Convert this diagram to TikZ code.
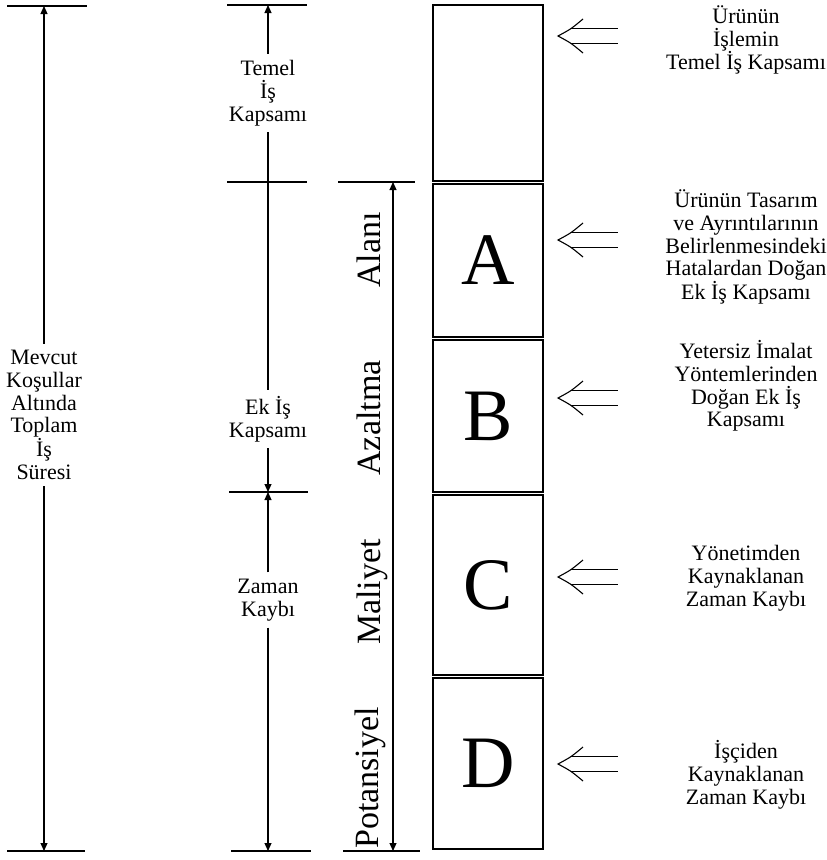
\documentclass[tikz,border=0pt]{standalone}
\usepackage{fontspec}
\setmainfont{Liberation Serif}
\usetikzlibrary{arrows.meta}

\tikzset{
  dblarrow/.pic={
    \draw (25,-17) .. controls (13,-7) .. (0,0) .. controls (13,7) .. (25,17);
    \draw (13,-7.5) -- (60,-7.5) (13,7.5) -- (60,7.5);
  }
}

\begin{document}
\begin{tikzpicture}[x=1pt,y=-1pt,line width=1.1pt,
   every node/.style={font=\fontsize{22}{22.8}\selectfont},
   lbl/.style={align=center,inner sep=6pt},
   arr/.style={-{Triangle[length=8pt,width=7pt]}},
   box/.style={draw,line width=1.4pt,minimum width=110pt,inner sep=0pt,
     font=\fontsize{74}{74}\selectfont},
   side/.style={rotate=90,anchor=base,inner sep=0pt,font=\fontsize{34}{34}\selectfont}]
   \useasboundingbox (0,0) rectangle (827,860);

   % left column
   \draw (7,6) -- (87,6);
   \draw (7,851) -- (85,851);
   \coordinate (lt) at (44,6);
   \coordinate (lb) at (44,851);
   \node [lbl] (mevcut) at (44,415) {Mevcut\\Koşullar\\Altında\\Toplam\\İş\\Süresi};
   \draw [arr] (mevcut) -- (lt);
   \draw [arr] (mevcut) -- (lb);

   % middle column
   \draw (227,5) -- (307,5);
   \draw (227,182) -- (307,182);
   \draw (229,492) -- (308,492);
   \draw (231,851) -- (311,851);
   \coordinate (mt) at (268,5);
   \coordinate (mm) at (268,492);
   \coordinate (mb) at (268,851);
   \node [lbl] (temel) at (268,93) {Temel\\İş\\Kapsamı};
   \node [lbl] (ek) at (268,419) {Ek İş\\Kapsamı};
   \node [lbl] (zaman) at (268,600) {Zaman\\Kaybı};
   \draw [arr] (temel) -- (mt);
   \draw (temel) -- (ek);
   \draw [arr] (ek) -- (mm);
   \draw [arr] (zaman) -- (mm);
   \draw [arr] (zaman) -- (mb);

   % cost reduction span
   \draw (338,182) -- (415,182);
   \draw (343,851) -- (420,851);
   \coordinate (rt) at (393,182);
   \coordinate (rb) at (393,851);
   \draw [{Triangle[length=8pt,width=7pt]}-{Triangle[length=8pt,width=7pt]}] (rt) -- (rb);
   \node [side] (alani) at (380,250) {Alanı};
   \node [side] (azaltma) at (380,418) {Azaltma};
   \node [side] (maliyet) at (380,592) {Maliyet};
   \node [side] (potansiyel) at (378,778) {Potansiyel};

   % stacked boxes
   \node [box,minimum height=176pt] (temelbox) at (488,93) {};
   \node [box,minimum height=153pt] (a) at (488,260.5) {A};
   \node [box,minimum height=152pt] (b) at (488,416) {B};
   \node [box,minimum height=180pt] (c) at (488,585) {C};
   \node [box,minimum height=171pt] (d) at (488,763.5) {D};

   \pic at (558,36) {dblarrow};
   \pic at (558,240) {dblarrow};
   \pic at (558,398) {dblarrow};
   \pic at (558,577) {dblarrow};
   \pic at (558,764) {dblarrow};

   \node [lbl,inner sep=0pt] (u1) at (746,40) {Ürünün\\İşlemin\\Temel İş Kapsamı};
   \node [lbl,inner sep=0pt] (u2) at (746,247) {Ürünün Tasarım\\ve Ayrıntılarının\\Belirlenmesindeki\\Hatalardan Doğan\\Ek İş Kapsamı};
   \node [lbl,inner sep=0pt] (u3) at (746,386) {Yetersiz İmalat\\Yöntemlerinden\\Doğan Ek İş\\Kapsamı};
   \node [lbl,inner sep=0pt] (u4) at (746,578) {Yönetimden\\Kaynaklanan\\Zaman Kaybı};
   \node [lbl,inner sep=0pt] (u5) at (746,775) {İşçiden\\Kaynaklanan\\Zaman Kaybı};
\end{tikzpicture}
\end{document}
